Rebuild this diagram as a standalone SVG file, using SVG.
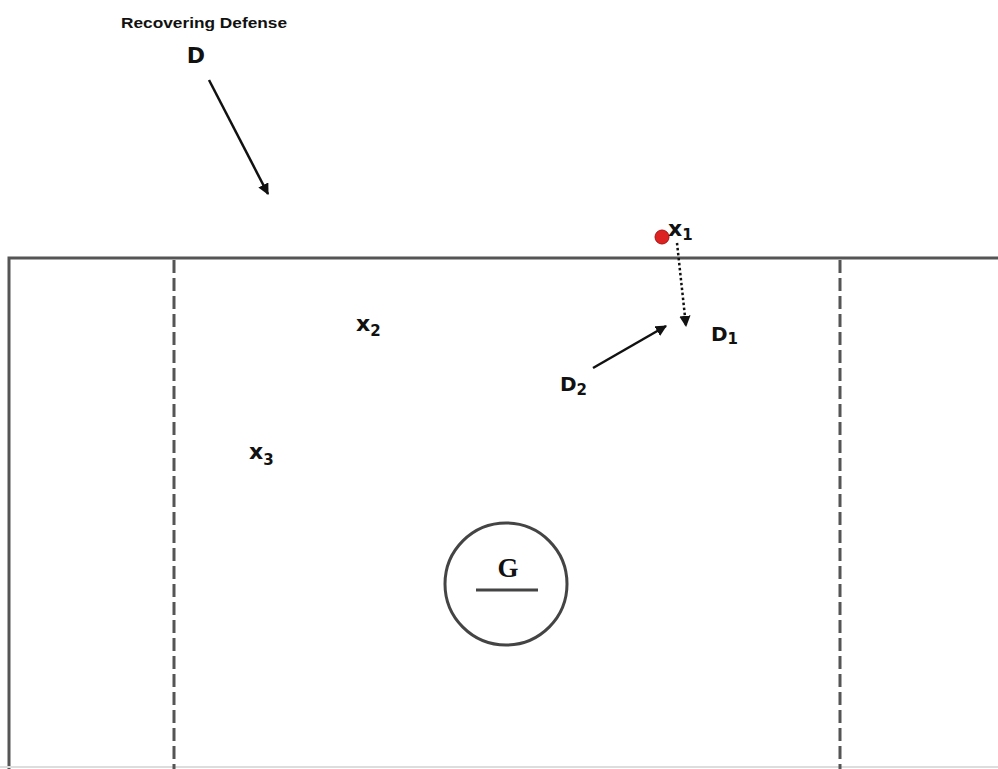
<svg xmlns="http://www.w3.org/2000/svg" width="998" height="769" viewBox="0 0 998 769">
  <style>
    .field { fill: none; stroke: #555; stroke-width: 3; }
    .dash { fill: none; stroke: #555; stroke-width: 3; stroke-dasharray: 13 5; }
    .lbl { font-family: "DejaVu Sans", Verdana, sans-serif; font-weight: bold; fill: #111; }
    .move { fill: none; stroke: #111; stroke-width: 2.5; }
    .dotted { fill: none; stroke: #111; stroke-width: 2.5; stroke-dasharray: 2.5 2.5; }
  </style>
  <defs>
    <marker id="head" viewBox="0 0 10 10" refX="9" refY="5" markerWidth="4.5" markerHeight="4.5" orient="auto" markerUnits="strokeWidth">
      <path d="M0,0 L10,5 L0,10 z" fill="#111"/>
    </marker>
  </defs>
  <rect width="998" height="769" fill="#fff"/>

  <!-- field outline and restraining lines -->
  <g id="field">
    <path class="field" d="M9,769 V258 H998"/>
    <line x1="0" y1="767" x2="998" y2="767" stroke="#ddd" stroke-width="2"/>
    <line class="dash" x1="174" y1="260" x2="174" y2="769"/>
    <line class="dash" x1="840" y1="260" x2="840" y2="769"/>
  </g>

  <g id="goal">
    <circle cx="506" cy="584" r="61" fill="none" stroke="#444" stroke-width="3"/>
    <text x="508" y="577" text-anchor="middle" font-family="Liberation Serif, serif" font-weight="bold" font-size="27" fill="#111">G</text>
    <line x1="476" y1="590" x2="538" y2="590" stroke="#444" stroke-width="3"/>
  </g>

  <g id="recovering-defense">
    <text x="121" y="28" textLength="166" lengthAdjust="spacingAndGlyphs" font-family="Liberation Sans, sans-serif" font-weight="bold" font-size="15" fill="#111">Recovering Defense</text>
    <text class="lbl" x="196" y="63" text-anchor="middle" font-size="22">D</text>
  </g>

  <g id="x1">
    <circle cx="662" cy="237" r="7" fill="#d22" stroke="#a11" stroke-width="1"/>
    <text class="lbl" x="668" y="236" font-size="22">x<tspan font-size="15" dy="4">1</tspan></text>
  </g>

  <g id="x2">
    <text class="lbl" x="356" y="331" font-size="22">x<tspan font-size="15" dy="5">2</tspan></text>
  </g>

  <g id="x3">
    <text class="lbl" x="249" y="459" font-size="22">x<tspan font-size="15" dy="6">3</tspan></text>
  </g>

  <g id="d1">
    <text class="lbl" x="711" y="341" font-size="20">D<tspan font-size="15" dy="3">1</tspan></text>
  </g>

  <g id="d2">
    <text class="lbl" x="560" y="391" font-size="20">D<tspan font-size="15" dy="4">2</tspan></text>
  </g>

  <g id="connectors">
    <line class="move" x1="209" y1="80" x2="268" y2="194" marker-end="url(#head)"/>
    <line class="dotted" x1="677" y1="243" x2="686" y2="326" marker-end="url(#head)"/>
    <line class="move" x1="593" y1="368" x2="666" y2="326" marker-end="url(#head)"/>
  </g>
</svg>
